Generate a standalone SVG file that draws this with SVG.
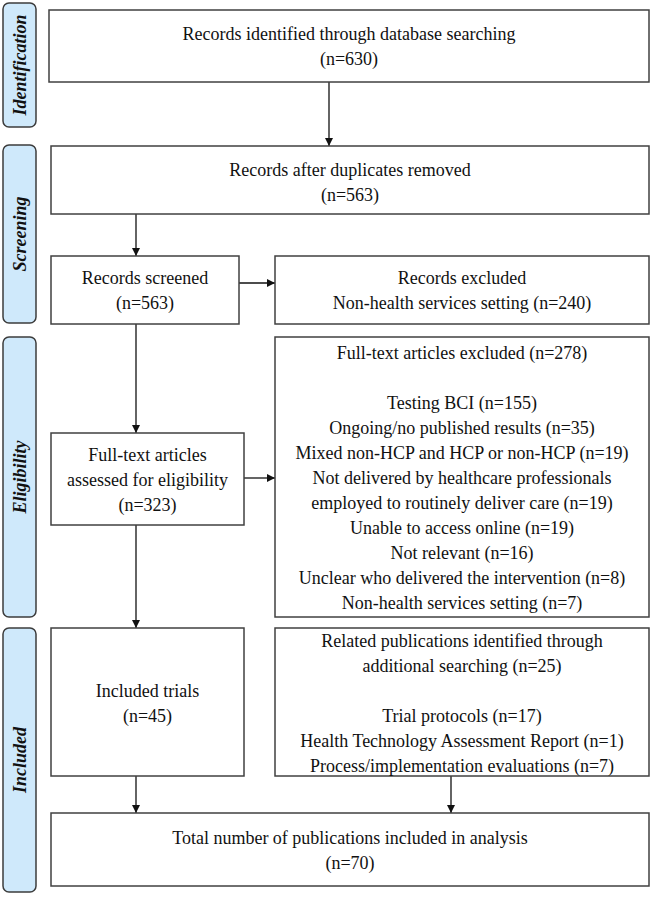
<svg xmlns="http://www.w3.org/2000/svg" width="652" height="897" viewBox="0 0 652 897">
<style>
.bg{fill:#ffffff}
.stage{fill:#cfe9fb;stroke:#3c3c3c;stroke-width:1.5}
.stxt{font-family:"Liberation Serif","Times New Roman",serif;font-size:18px;font-weight:bold;font-style:italic;fill:#111;text-anchor:middle}
.box{fill:#ffffff;stroke:#404040;stroke-width:1.5}
.t{font-family:"Liberation Serif","Times New Roman",serif;font-size:18px;fill:#111;text-anchor:middle}
.c{stroke:#111;stroke-width:1.3;fill:none;marker-end:url(#ah)}
</style>
<defs>
<marker id="ah" viewBox="0 0 10 10" refX="10" refY="5" markerWidth="8" markerHeight="8" markerUnits="userSpaceOnUse" orient="auto">
<path d="M0,0 L10,5 L0,10 z" fill="#111"/>
</marker>
</defs>
<rect class="bg" x="0" y="0" width="652" height="897"/>
<g id="stage-identification">
<rect class="stage" x="3" y="3" width="33" height="124" rx="6"/>
<text class="stxt" transform="translate(25.5,65) rotate(-90)">Identification</text>
</g>
<g id="stage-screening">
<rect class="stage" x="3" y="145" width="33" height="178" rx="6"/>
<text class="stxt" transform="translate(25.5,234) rotate(-90)">Screening</text>
</g>
<g id="stage-eligibility">
<rect class="stage" x="3" y="337" width="33" height="280" rx="6"/>
<text class="stxt" transform="translate(25.5,477) rotate(-90)">Eligibility</text>
</g>
<g id="stage-included">
<rect class="stage" x="3" y="628" width="33" height="264" rx="6"/>
<text class="stxt" transform="translate(25.5,760) rotate(-90)">Included</text>
</g>
<g id="connectors">
<line class="c" x1="329" y1="82" x2="329" y2="146"/>
<line class="c" x1="136" y1="214" x2="136" y2="256"/>
<line class="c" x1="239" y1="283" x2="275" y2="283"/>
<line class="c" x1="136" y1="324" x2="136" y2="433"/>
<line class="c" x1="244" y1="478" x2="275" y2="478"/>
<line class="c" x1="136" y1="525" x2="136" y2="628"/>
<line class="c" x1="136" y1="776" x2="136" y2="813"/>
<line class="c" x1="451" y1="776" x2="451" y2="813"/>
</g>
<g id="n-identified">
<rect class="box" x="49" y="10" width="600" height="72"/>
<text class="t" x="349" y="40">Records identified through database searching</text>
<text class="t" x="349" y="65">(n=630)</text>
</g>
<g id="n-duplicates">
<rect class="box" x="51" y="146" width="598" height="68"/>
<text class="t" x="350" y="176">Records after duplicates removed</text>
<text class="t" x="350" y="201">(n=563)</text>
</g>
<g id="n-screened">
<rect class="box" x="51" y="256" width="188" height="68"/>
<text class="t" x="145" y="284">Records screened</text>
<text class="t" x="145" y="309">(n=563)</text>
</g>
<g id="n-excluded">
<rect class="box" x="275" y="256" width="374" height="68"/>
<text class="t" x="462" y="284">Records excluded</text>
<text class="t" x="462" y="309">Non-health services setting (n=240)</text>
</g>
<g id="n-fulltext">
<rect class="box" x="51" y="433" width="193" height="92"/>
<text class="t" x="147.5" y="461">Full-text articles</text>
<text class="t" x="147.5" y="486">assessed for eligibility</text>
<text class="t" x="147.5" y="511">(n=323)</text>
</g>
<g id="n-fulltext-excluded">
<rect class="box" x="275" y="337" width="374" height="280"/>
<text class="t" x="462" y="359">Full-text articles excluded (n=278)</text>
<text class="t" x="462" y="409">Testing BCI (n=155)</text>
<text class="t" x="462" y="434">Ongoing/no published results (n=35)</text>
<text class="t" x="462" y="459">Mixed non-HCP and HCP or non-HCP (n=19)</text>
<text class="t" x="462" y="484">Not delivered by healthcare professionals</text>
<text class="t" x="462" y="509">employed to routinely deliver care (n=19)</text>
<text class="t" x="462" y="534">Unable to access online (n=19)</text>
<text class="t" x="462" y="559">Not relevant (n=16)</text>
<text class="t" x="462" y="584">Unclear who delivered the intervention (n=8)</text>
<text class="t" x="462" y="609">Non-health services setting (n=7)</text>
</g>
<g id="n-included">
<rect class="box" x="51" y="628" width="193" height="148"/>
<text class="t" x="147.5" y="697">Included trials</text>
<text class="t" x="147.5" y="722">(n=45)</text>
</g>
<g id="n-related">
<rect class="box" x="275" y="628" width="374" height="148"/>
<text class="t" x="462" y="647">Related publications identified through</text>
<text class="t" x="462" y="672">additional searching (n=25)</text>
<text class="t" x="462" y="722">Trial protocols (n=17)</text>
<text class="t" x="462" y="747">Health Technology Assessment Report (n=1)</text>
<text class="t" x="462" y="772">Process/implementation evaluations (n=7)</text>
</g>
<g id="n-total">
<rect class="box" x="51" y="813" width="598" height="73"/>
<text class="t" x="350" y="844">Total number of publications included in analysis</text>
<text class="t" x="350" y="869">(n=70)</text>
</g>
</svg>
